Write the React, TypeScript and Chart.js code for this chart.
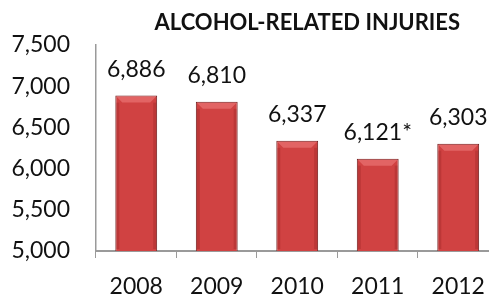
import React, { useEffect, useRef } from "react";
import { Chart, registerables } from "chart.js";

Chart.register(...registerables);

const title = "ALCOHOL-RELATED INJURIES";
const years = ["2008", "2009", "2010", "2011", "2012"];
const injuries = [6886, 6810, 6337, 6121, 6303];
const valueLabels = ["6,886", "6,810", "6,337", "6,121*", "6,303"];
const yMin = 5000;
const yMax = 7500;
const yStep = 500;

const FONT = "Lato, 'Open Sans', sans-serif";

const barDecor = {
  id: "barDecor",
  afterDatasetsDraw(chart: any) {
    const ctx = chart.ctx;
    const meta = chart.getDatasetMeta(0);
    const area = chart.chartArea;
    ctx.save();
    meta.data.forEach((bar: any, i: number) => {
      const { x, y, width } = bar.getProps(["x", "y", "width"], true);
      const base = area.bottom;
      const l = x - width / 2;
      const r = x + width / 2;
      const bev = 7;
      ctx.save();
      ctx.beginPath();
      ctx.rect(area.left, area.top - 5, area.width, area.height + 5);
      ctx.clip();
      // top bevel
      ctx.beginPath();
      ctx.moveTo(l + 1, y + 1);
      ctx.lineTo(r - 1, y + 1);
      ctx.lineTo(r - bev, y + bev);
      ctx.lineTo(l + bev, y + bev);
      ctx.closePath();
      ctx.fillStyle = "rgba(240,130,130,0.55)";
      ctx.fill();
      // side shading
      const h = Math.max(0, base - y - bev - 2);
      ctx.fillStyle = "rgba(120,20,20,0.22)";
      ctx.fillRect(l + 1, y + bev, 3, h);
      ctx.fillRect(r - 4, y + bev, 3, h);
      ctx.restore();
      // label
      ctx.fillStyle = "#111";
      ctx.font = `23px ${FONT}`;
      ctx.textAlign = "center";
      ctx.textBaseline = "alphabetic";
      ctx.fillText(valueLabels[i], x, y - 19);
    });
    ctx.restore();
  },
  afterDraw(chart: any) {
    const ctx = chart.ctx;
    const a = chart.chartArea;
    ctx.save();
    ctx.fillStyle = "#111";
    ctx.font = `bold 22px ${FONT}`;
    ctx.textAlign = "center";
    ctx.textBaseline = "alphabetic";
    ctx.fillText(title, a.left + a.width * 0.525, 30);
    ctx.restore();
  },
};

export default function App() {
  const ref = useRef<HTMLCanvasElement>(null);
  useEffect(() => {
    document.body.style.overflow = "hidden";
    const c = ref.current!;
    const chart = new Chart(c, {
      type: "bar",
      data: {
        labels: years,
        datasets: [
          {
            data: injuries,
            backgroundColor: (ctx: any) => {
              const chartObj = ctx.chart;
              const el = ctx.element;
              if (!el || !chartObj.chartArea) return "#d04242";
              const w = el.width;
              if (!Number.isFinite(el.x) || !Number.isFinite(w) || w <= 0) return "#d04242";
              const g = chartObj.ctx.createLinearGradient(el.x - w / 2, 0, el.x + w / 2, 0);
              g.addColorStop(0, "#b83232");
              g.addColorStop(0.2, "#d44444");
              g.addColorStop(0.8, "#d44444");
              g.addColorStop(1, "#b83232");
              return g;
            },
            borderColor: "#6e1c1c",
            borderWidth: 1,
            borderSkipped: false,
            categoryPercentage: 1,
            barPercentage: 0.52,
          },
        ],
      },
      plugins: [barDecor],
      options: {
        animation: false,
        responsive: false,
        devicePixelRatio: 1,
        layout: { padding: { top: 45, right: 1, left: 0, bottom: 0 } },
        plugins: { legend: { display: false }, tooltip: { enabled: false }, title: { display: false } },
        scales: {
          x: {
            grid: {
              offset: true,
              drawOnChartArea: false,
              drawTicks: true,
              tickLength: 7,
              color: "#9a9a9a",
            },
            border: { color: "#9a9a9a", width: 2 },
            ticks: { color: "#111", font: { family: FONT, size: 23 }, padding: 15 },
            afterFit: (s: any) => {
              s.height = 45;
            },
          },
          y: {
            min: yMin,
            max: yMax,
            grid: { display: false, drawTicks: false },
            border: { color: "#9a9a9a", width: 1.5 },
            ticks: {
              stepSize: yStep,
              color: "#111",
              font: { family: FONT, size: 23 },
              padding: 26,
              callback: (v: any) => Number(v).toLocaleString("en-US"),
            },
            afterFit: (s: any) => {
              s.width = 96;
            },
          },
        },
      },
    });
    return () => chart.destroy();
  }, []);
  return (
    <div style={{ position: "fixed", left: 0, top: 0, width: 489, height: 296, overflow: "hidden", background: "#fff" }}>
      <canvas ref={ref} width={500} height={296} style={{ display: "block" }} />
    </div>
  );
}
